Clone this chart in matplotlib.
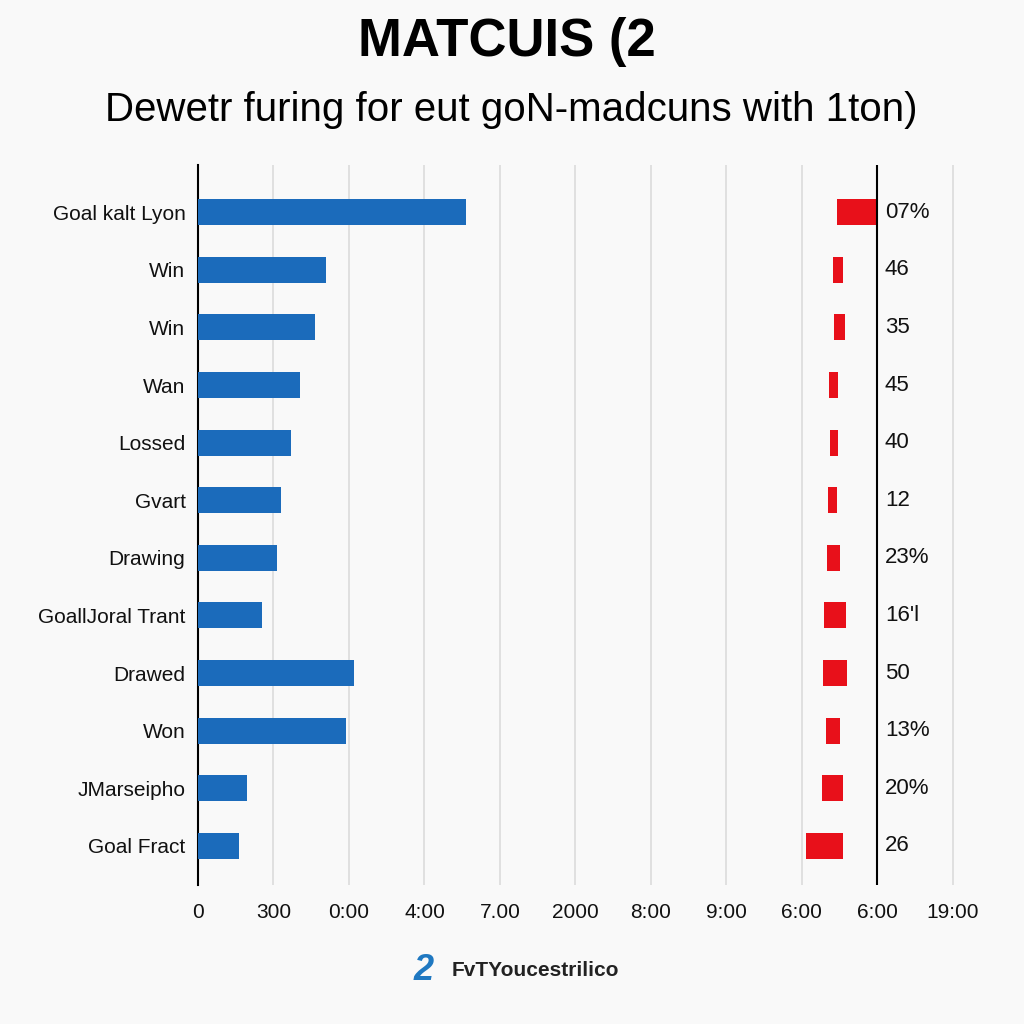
import matplotlib.pyplot as plt
import numpy as np

plt.rcParams['font.family'] = ['Liberation Sans', 'DejaVu Sans']

## data
labels = ['Goal kalt Lyon', 'Win', 'Win', 'Wan', 'Lossed', 'Gvart', 'Drawing',
          'GoallJoral Trant', 'Drawed', 'Won', 'JMarseipho', 'Goal Fract']
blue_vals = [3.55, 1.70, 1.55, 1.35, 1.23, 1.10, 1.05, 0.85, 2.07, 1.96, 0.65, 0.54]
red_left = [8.46, 8.41, 8.42, 8.36, 8.37, 8.34, 8.33, 8.29, 8.28, 8.32, 8.26, 8.05]
red_width = [0.52, 0.13, 0.15, 0.12, 0.11, 0.13, 0.17, 0.30, 0.32, 0.19, 0.28, 0.49]
right_labels = ['07%', '46', '35', '45', '40', '12', '23%', "16'l", '50', '13%', '20%', '26']
xtick_labels = ['0', '300', '0:00', '4:00', '7.00', '2000', '8:00', '9:00', '6:00', '6:00', '19:00']

blue = '#1b6bbb'
red = '#e8101a'

fig = plt.figure(figsize=(10.24, 10.24), dpi=100, facecolor='#f9f9f9')

ax = fig.add_axes([198/1024, 1-885/1024, (968-198)/1024, (885-165)/1024])
ax.set_facecolor('none')

y = np.arange(len(labels))
ax.barh(y, blue_vals, height=0.45, color=blue, zorder=3)
ax.barh(y, red_width, left=red_left, height=0.45, color=red, zorder=3)

for yi, t in zip(y, right_labels):
    ax.text(9.1, yi, t, va='center', ha='left', fontsize=16, color='#111111')

ax.set_xlim(0, 10.2)
ax.set_ylim(11.68, -0.82)
ax.set_yticks(y)
ax.set_yticklabels(labels, fontsize=15, color='#111111')
ax.set_xticks(np.arange(0, 11))
ax.set_xticklabels(xtick_labels, fontsize=15, color='#111111')
ax.tick_params(axis='both', length=0)
ax.tick_params(axis='y', pad=9)
ax.tick_params(axis='x', pad=13)

for xv in range(1, 11):
    ax.axvline(xv, color='#dcdcdc', lw=1.2, zorder=1)
ax.axvline(9, color='black', lw=1.5, zorder=4)

for s in ['top', 'right', 'bottom']:
    ax.spines[s].set_visible(False)
ax.spines['left'].set_color('black')
ax.spines['left'].set_linewidth(1.5)

fig.text(0.495, 1-42/1024, 'MATCUIS (2', ha='center', va='center',
         fontsize=38, fontweight='bold', color='black')
fig.text(0.499, 1-110/1024, 'Dewetr furing for eut goN-madcuns with 1ton)',
         ha='center', va='center', fontsize=29, color='black')

# logo
fig.text(424/1024, 1-970/1024, '2', ha='center', va='center', fontsize=26,
         fontweight='bold', fontstyle='italic', color='#1f78c1')
fig.text(452/1024, 1-970/1024, 'FvTYoucestrilico', ha='left', va='center',
         fontsize=15, fontweight='bold', color='#222222')

fig.savefig('out.png', dpi=100, facecolor=fig.get_facecolor())
